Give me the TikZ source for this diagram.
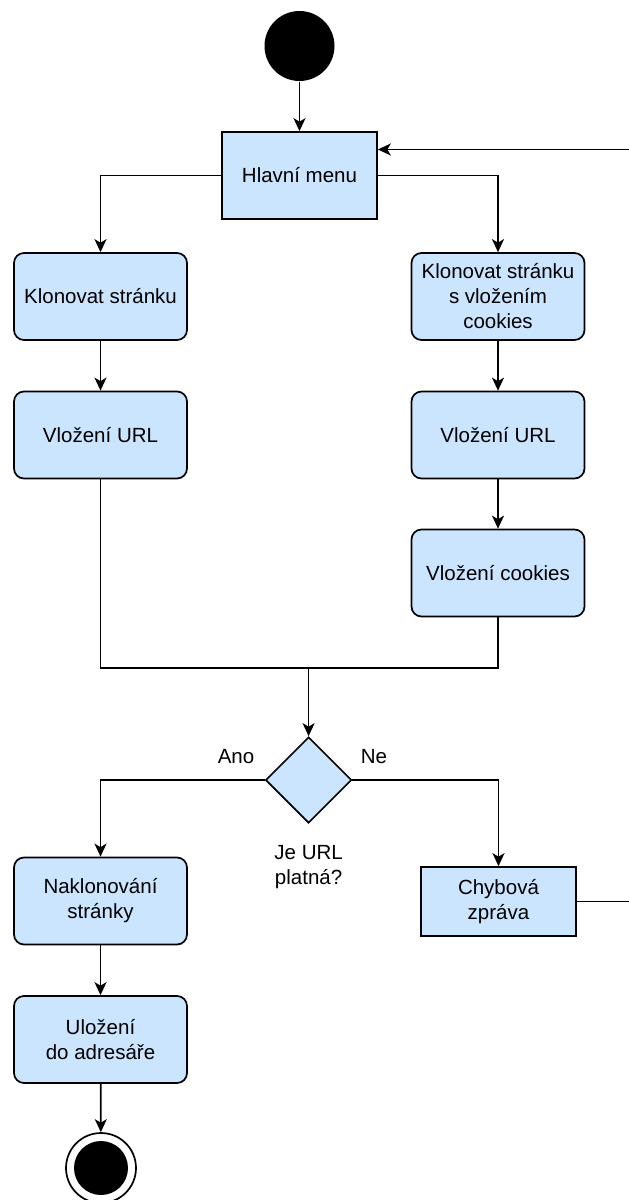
\documentclass[tikz,border=0pt]{standalone}
\usepackage{fontspec}
\setmainfont{Liberation Sans}
\usepackage{xcolor}
\usepackage{tikz}
\usetikzlibrary{arrows.meta, shapes.geometric}
\definecolor{boxfill}{HTML}{CCE5FF}

\begin{document}
\begin{tikzpicture}[x=1pt,y=-1pt,line width=1.7pt,
  font=\fontsize{20.5}{25}\selectfont,
  act/.style={draw,fill=boxfill,rounded corners=10pt,minimum width=173pt,minimum height=87pt,align=center,inner sep=2pt},
  box/.style={draw,fill=boxfill,minimum width=155pt,align=center,inner sep=2pt},
  arr/.style={-{Stealth[length=13pt,width=12pt,inset=3.5pt]}}]
\useasboundingbox (0,0) rectangle (629,1200);
\node[circle,fill=black,minimum size=70pt,inner sep=0pt] (start) at (299.5,46) {};
\node[box,minimum height=87pt] (menu) at (299.5,175.5) {Hlavní menu};
\node[act] (klon) at (100.5,296.5) {Klonovat stránku};
\node[act] (url) at (100.5,435) {Vložení URL};
\node[act] (klonc) at (498,296.5) {Klonovat stránku\\s vložením\\cookies};
\node[act] (urlc) at (498,435) {Vložení URL};
\node[act] (cookies) at (498,573) {Vložení cookies};
\node[diamond,draw,fill=boxfill,aspect=1,minimum size=86pt,inner sep=0pt] (dec) at (308.6,780) {};
\node[align=center] (otazka) at (308.6,867) {Je URL\\platná?};
\node (ano) at (236,757) {Ano};
\node (ne) at (374,757) {Ne};
\node[act] (naklon) at (100.5,901) {Naklonování\\stránky};
\node[act] (ulozeni) at (100.5,1039.5) {Uložení\\do adresáře};
\node[box,minimum height=69pt] (chyba) at (498.5,901.5) {Chybová\\zpráva};
\node[circle,draw,fill=white,minimum size=70pt,inner sep=0pt] (konec) at (101,1168) {};
\node[circle,fill=black,minimum size=54pt,inner sep=0pt] (konecin) at (konec.center) {};
% napojeni
\coordinate (spoj) at (308.6,668);
\coordinate (zpet) at (630,901.5);
\coordinate (zpet2) at (630,149.5);
\draw[arr] (start) -- (menu);
\draw[arr] (menu.west) -| (klon.north);
\draw[arr] (menu.east) -| (klonc.north);
\draw[arr] (klon) -- (url);
\draw[arr] (klonc) -- (urlc);
\draw[arr] (urlc) -- (cookies);
\draw (url.south) |- (spoj) -| (cookies.south);
\draw[arr] (spoj) -- (dec.north);
\draw[arr] (dec.west) -| (naklon.north);
\draw[arr] (dec.east) -| (chyba.north);
\draw[arr] (naklon) -- (ulozeni);
\draw[arr] (ulozeni) -- (konec);
\draw[arr] (chyba.east) -- (zpet) -- (zpet2) -- (zpet2 -| menu.east);
\end{tikzpicture}
\end{document}
